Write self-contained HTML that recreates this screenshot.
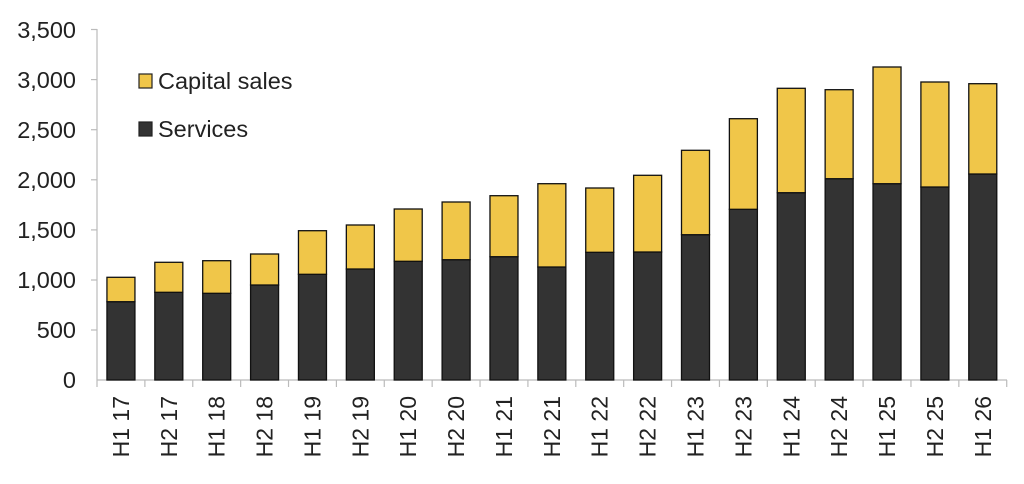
<!DOCTYPE html>
<html><head><style>body{margin:0;background:#fff}svg{display:block}text{font-family:"Liberation Sans",Arial,sans-serif;fill:#222}</style></head><body>
<svg width="1024" height="484" viewBox="0 0 1024 484">
<g stroke="#bbb" stroke-width="1.2">
<line x1="97" y1="29" x2="97" y2="380"/>
<line x1="97" y1="380" x2="1007" y2="380"/>
<line x1="91" y1="29.5" x2="97" y2="29.5"/><line x1="91" y1="79.6" x2="97" y2="79.6"/><line x1="91" y1="129.7" x2="97" y2="129.7"/><line x1="91" y1="179.8" x2="97" y2="179.8"/><line x1="91" y1="229.9" x2="97" y2="229.9"/><line x1="91" y1="280" x2="97" y2="280"/><line x1="91" y1="330" x2="97" y2="330"/>
</g>
<g id="xt" stroke="#bbb" stroke-width="1.2"></g>
<g font-size="23.5" text-anchor="end">
<text x="76" y="38">3,500</text><text x="76" y="88">3,000</text><text x="76" y="138">2,500</text><text x="76" y="188">2,000</text><text x="76" y="238">1,500</text><text x="76" y="288">1,000</text><text x="76" y="338">500</text><text x="76" y="388">0</text>
</g>
<rect x="139" y="74" width="13" height="14" fill="#F0C649" stroke="#222" stroke-width="1.2"/>
<text x="158" y="89" font-size="23.5">Capital sales</text>
<rect x="139" y="122" width="13" height="14" fill="#333" stroke="#222" stroke-width="1.2"/>
<text x="158" y="137" font-size="23.5">Services</text>
<g id="bars"></g>
<g id="labs" font-size="23" text-anchor="end"></g>
<script>
var tops=[277.3,262.3,260.7,254,230.7,225,209,202,195.7,183.7,188,175.3,150.3,118.7,88.3,89.7,67,82,83.7];
var spl=[301.7,292.3,293.3,285,274.3,269,261.3,259.7,256.7,267,252.3,252,234.7,209.3,192.7,178.7,183.7,187,174];
var labs=["H1 17","H2 17","H1 18","H2 18","H1 19","H2 19","H1 20","H2 20","H1 21","H2 21","H1 22","H2 22","H1 23","H2 23","H1 24","H2 24","H1 25","H2 25","H1 26"];
var ns="http://www.w3.org/2000/svg",b=document.getElementById("bars"),l=document.getElementById("labs"),xt=document.getElementById("xt");
function el(p,t,a){var e=document.createElementNS(ns,t);for(var k in a)e.setAttribute(k,a[k]);p.appendChild(e);return e;}
for(var i=0;i<=19;i++){var x=97+i*47.88;el(xt,"line",{x1:x,y1:380,x2:x,y2:387});}
for(var i=0;i<19;i++){var c=97+23.94+i*47.88,x0=c-14;
el(b,"rect",{x:x0,y:spl[i],width:28,height:380-spl[i],fill:"#333",stroke:"#111","stroke-width":1.3});
el(b,"rect",{x:x0,y:tops[i],width:28,height:spl[i]-tops[i],fill:"#F0C649",stroke:"#111","stroke-width":1.3});
var t=el(l,"text",{transform:"translate("+(c+8)+",396) rotate(-90)"});t.textContent=labs[i];}
</script>
</svg>
</body></html>
